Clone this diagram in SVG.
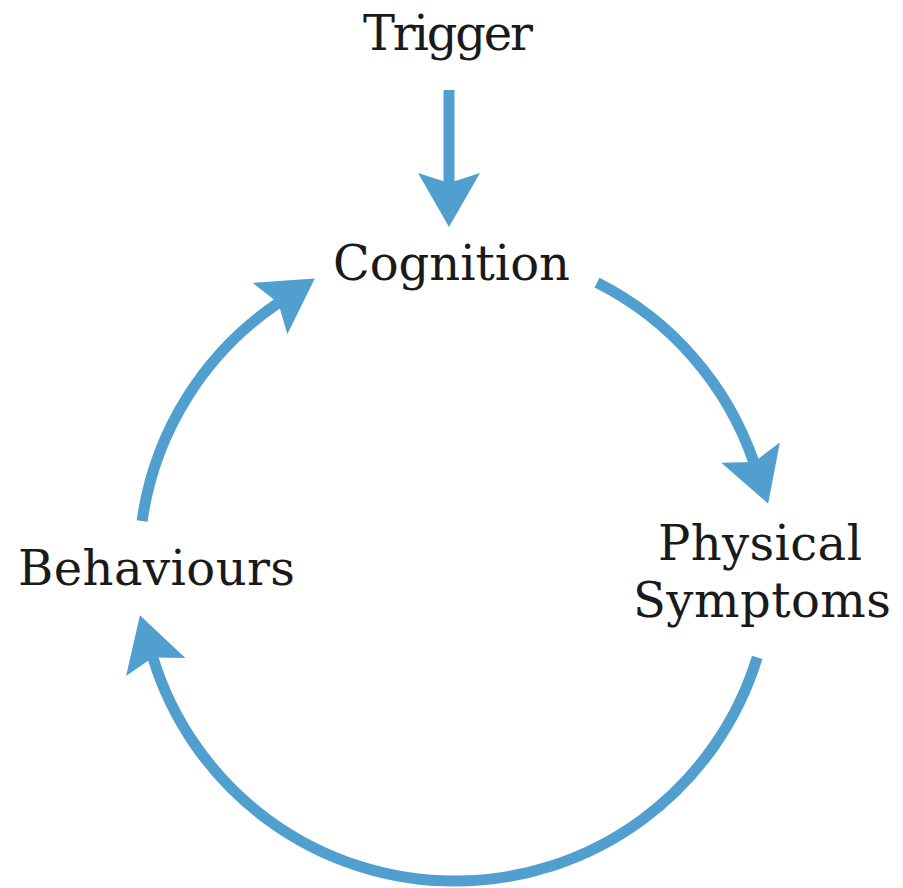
<svg xmlns="http://www.w3.org/2000/svg" width="903" height="888" viewBox="0 0 903 888">
  <style>
    .lbl { font-family: "DejaVu Serif", "Liberation Serif", serif; font-size: 48px; fill: #1a1a1a; text-anchor: middle; }
    .arrow { fill: none; stroke: #519fcf; stroke-width: 11; stroke-linecap: butt; marker-end: url(#head); }
  </style>
  <defs>
    <marker id="head" markerUnits="userSpaceOnUse" viewBox="0 -35 60 70" markerWidth="60" markerHeight="70" refX="10" refY="0" orient="auto">
      <path d="M0,-31 L54,0 L0,31 L10,0 Z" fill="#519fcf"/>
    </marker>
  </defs>
  <rect width="903" height="888" fill="#ffffff"/>
  <g id="connectors">
    <path class="arrow" d="M449,90 L449,183"/>
    <path class="arrow" d="M597,282.7 A316,316 0 0 1 753.8,462.1"/>
    <path class="arrow" d="M757.2,657.4 A316,316 0 0 1 152.8,657.4"/>
    <path class="arrow" d="M142.1,521 A316,316 0 0 1 278.3,303"/>
  </g>
  <g id="trigger">
    <text class="lbl" x="448" y="50" textLength="170">Trigger</text>
  </g>
  <g id="cognition">
    <text class="lbl" x="451.5" y="280" textLength="237">Cognition</text>
  </g>
  <g id="physical-symptoms">
    <text class="lbl" x="760" y="560" textLength="204">Physical</text>
    <text class="lbl" x="762" y="617" textLength="258">Symptoms</text>
  </g>
  <g id="behaviours">
    <text class="lbl" x="156.5" y="585" textLength="277">Behaviours</text>
  </g>
</svg>
